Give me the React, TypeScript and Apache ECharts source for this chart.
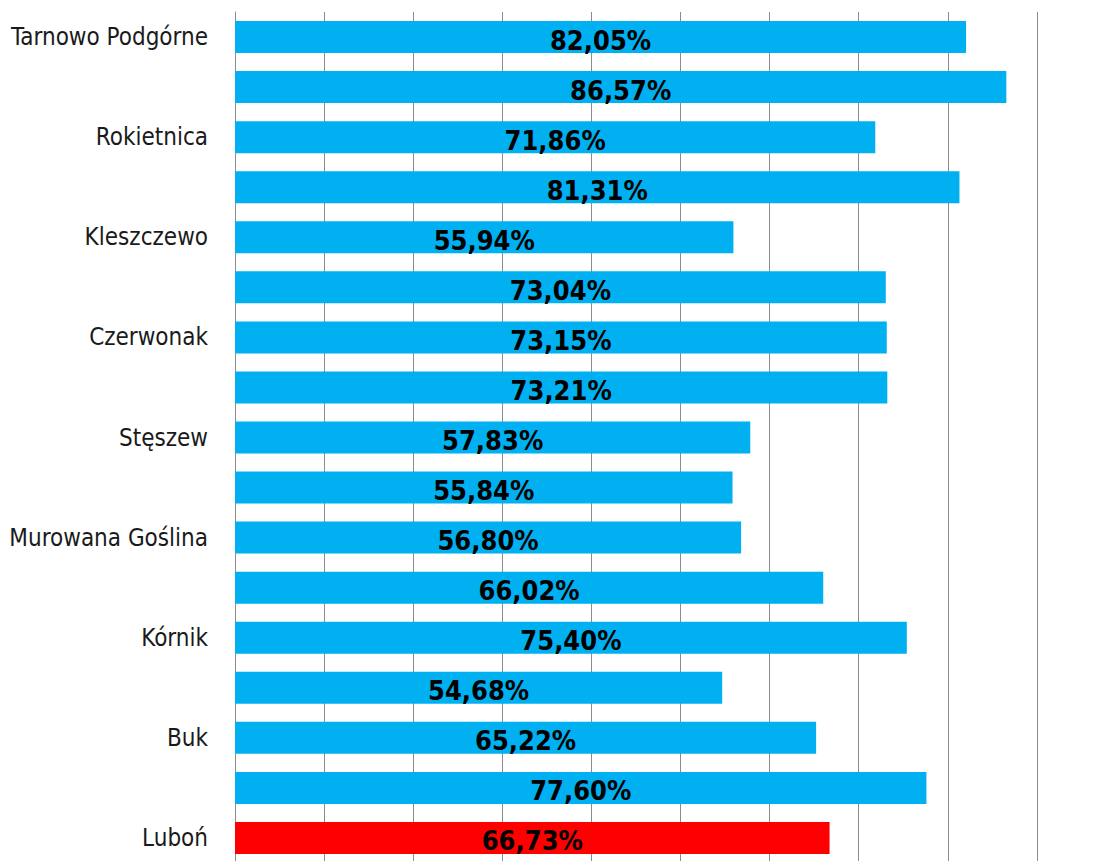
import React, { useEffect, useRef } from "react";
import * as echarts from "echarts";

const categories = [
  "Tarnowo Podgórne",
  "Suchy Las",
  "Rokietnica",
  "Dopiewo",
  "Kleszczewo",
  "Swarzędz",
  "Czerwonak",
  "Komorniki",
  "Stęszew",
  "Pobiedziska",
  "Murowana Goślina",
  "Kostrzyn",
  "Kórnik",
  "Mosina",
  "Buk",
  "Puszczykowo",
  "Luboń",
];

const values = [
  82.05, 86.57, 71.86, 81.31, 55.94, 73.04, 73.15, 73.21, 57.83, 55.84, 56.8,
  66.02, 75.4, 54.68, 65.22, 77.6, 66.73,
];

const highlighted = "Luboń";
const xTicks = { min: 0, max: 100, interval: 10 };

const NARROW = "'Liberation Sans Narrow', 'Arial Narrow', 'DejaVu Sans Condensed', sans-serif";

export default function App() {
  const ref = useRef<HTMLDivElement>(null);
  useEffect(() => {
    if (!ref.current) return;
    const chart = echarts.init(ref.current, null, { renderer: "svg" });
    chart.setOption({
      animation: false,
      grid: {
        left: 235,
        top: 12,
        width: 891,
        height: 851,
        containLabel: false,
        outerBoundsMode: "none",
      },
      xAxis: {
        type: "value",
        min: xTicks.min,
        max: xTicks.max,
        interval: xTicks.interval,
        axisLabel: { show: false },
        axisLine: { show: false },
        axisTick: { show: false },
        splitLine: { show: true, lineStyle: { color: "#8c8c8c", width: 1 } },
      },
      yAxis: {
        type: "category",
        data: categories,
        inverse: true,
        axisLine: { show: true, lineStyle: { color: "#8c8c8c", width: 1 } },
        axisTick: { show: false },
        axisLabel: {
          interval: 1,
          margin: 27,
          fontFamily: NARROW,
          fontSize: 24,
          color: "#1a1a1a",
        },
      },
      series: [
        {
          type: "bar",
          barWidth: 32,
          data: categories.map((c, i) => ({
            value: values[i],
            itemStyle: { color: c === highlighted ? "#ff0000" : "#00b0f0" },
          })),
          label: {
            show: true,
            position: "inside",
            offset: [0, 3],
            fontFamily: NARROW,
            fontWeight: "bold",
            fontSize: 27,
            color: "#000",
            formatter: (p: any) => p.value.toFixed(2).replace(".", ",") + "%",
          },
        },
      ],
    });
    return () => chart.dispose();
  }, []);
  return (
    <div
      ref={ref}
      style={{ position: "fixed", left: 0, top: 0, width: 1115, height: 861, background: "#fff" }}
    />
  );
}
